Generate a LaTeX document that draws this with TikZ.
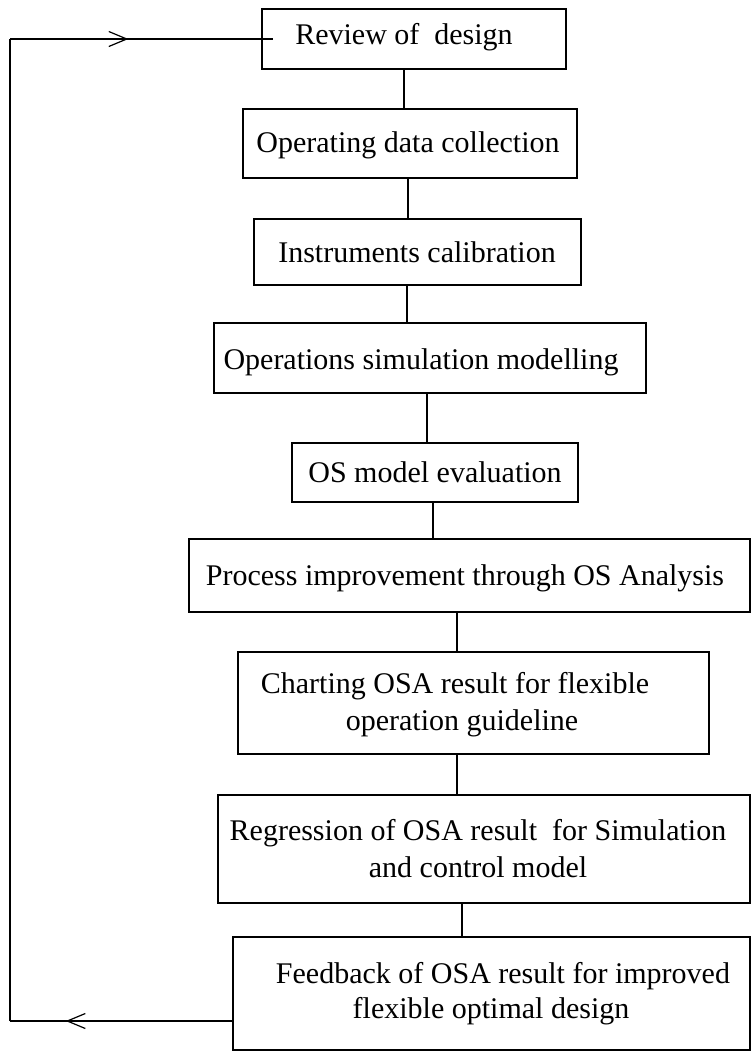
\documentclass[tikz,border=0pt]{standalone}
\usepackage{fontspec}
\setmainfont{Liberation Serif}
\usetikzlibrary{arrows.meta,decorations.markings}

\begin{document}
\begin{tikzpicture}[x=1pt,y=-1pt,line width=1.1pt,
  stage/.style={draw, rectangle, inner sep=0pt, outer sep=0pt},
  txt/.style={font=\fontsize{30}{36}\selectfont, inner sep=0pt, anchor=base},
  mid arrow/.style={postaction={decorate,decoration={markings,
      mark=at position #1 with {\arrow{Straight Barb[length=18pt,width=15pt,line width=1.2pt]}}}}}]

\useasboundingbox (0,0) rectangle (752,1052);
\fill[white] (0,0) rectangle (752,1052);

% process boxes (centre, width, height)
\node[stage, minimum width=304pt, minimum height=60pt]  (b1) at (414,39)    {};
\node[stage, minimum width=334pt, minimum height=69pt]  (b2) at (410,143.5) {};
\node[stage, minimum width=327pt, minimum height=66pt]  (b3) at (417.5,252) {};
\node[stage, minimum width=432pt, minimum height=70pt]  (b4) at (430,358)   {};
\node[stage, minimum width=286pt, minimum height=59pt]  (b5) at (435,472.5) {};
\node[stage, minimum width=561pt, minimum height=73pt]  (b6) at (469.5,575.5) {};
\node[stage, minimum width=471pt, minimum height=102pt] (b7) at (473.5,703) {};
\node[stage, minimum width=532pt, minimum height=108pt] (b8) at (484,849)   {};
\node[stage, minimum width=517pt, minimum height=113pt] (b9) at (491.5,993.5) {};

% box texts
\node[txt] (t1)  at (404,44)   {Review of\ \ design};
\node[txt] (t2)  at (408,152)  {Operating data collection};
\node[txt] (t3)  at (417,262)  {Instruments calibration};
\node[txt] (t4)  at (421,369)  {Operations simulation modelling};
\node[txt] (t5)  at (435,482)  {OS model evaluation};
\node[txt] (t6)  at (465,585)  {Process improvement through OS Analysis};
\node[txt] (t7a) at (455,693)  {Charting OSA result for flexible};
\node[txt] (t7b) at (462,730)  {operation guideline};
\node[txt] (t8a) at (478,840)  {Regression of OSA result\ \ for Simulation};
\node[txt] (t8b) at (478,877)  {and control model};
\node[txt] (t9a) at (503,983)  {Feedback of OSA result for improved};
\node[txt] (t9b) at (491,1018) {flexible optimal design};

% vertical links between successive boxes
\draw (404,0 |- b1.south) -- (404,0 |- b2.north);
\draw (408,0 |- b2.south) -- (408,0 |- b3.north);
\draw (407,0 |- b3.south) -- (407,0 |- b4.north);
\draw (427,0 |- b4.south) -- (427,0 |- b5.north);
\draw (433,0 |- b5.south) -- (433,0 |- b6.north);
\draw (457,0 |- b6.south) -- (457,0 |- b7.north);
\draw (457,0 |- b7.south) -- (457,0 |- b8.north);
\draw (462,0 |- b8.south) -- (462,0 |- b9.north);

% feedback loop back to the first box
\coordinate (lb) at (10,1021);
\coordinate (lt) at (10,39);
\draw[mid arrow=0.75] (b9.west |- lb) -- (lb);
\draw (lb) -- (lt);
\draw[mid arrow=0.45] (lt) -- ([xshift=11pt]b1.west);
\end{tikzpicture}
\end{document}
